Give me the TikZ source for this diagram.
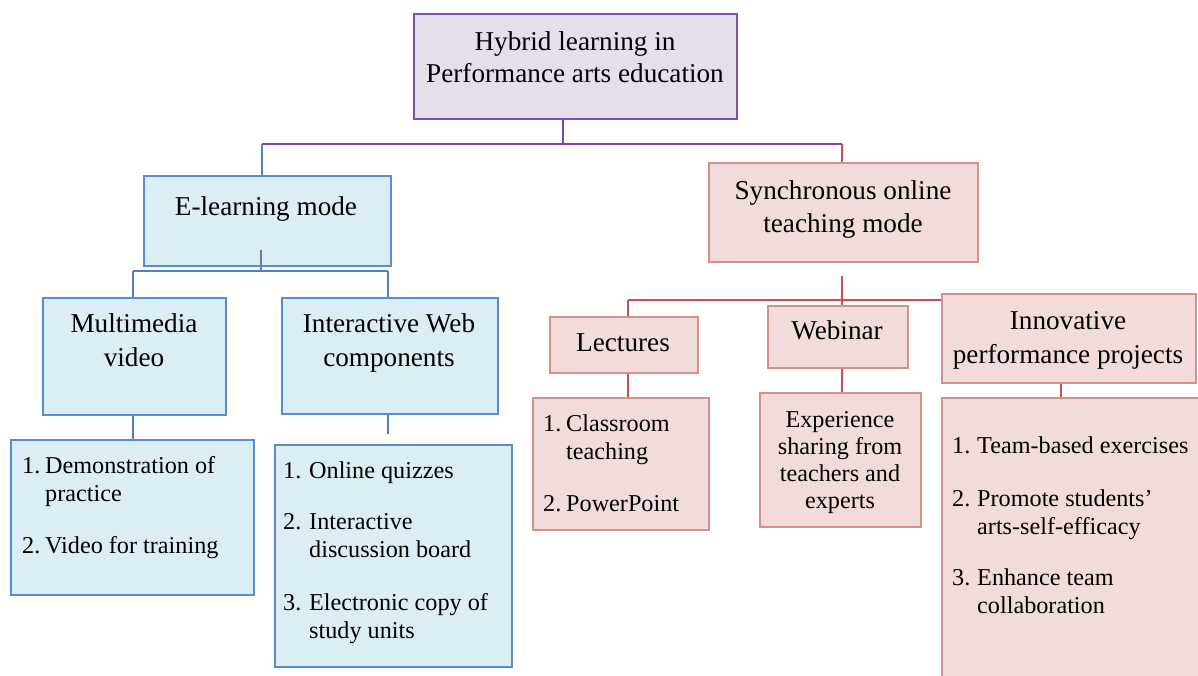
\documentclass[tikz,border=0pt]{standalone}
\usepackage{fontspec}
\setmainfont{Liberation Serif}
\definecolor{pbord}{HTML}{7F4BB5}
\definecolor{pfill}{HTML}{E5DFEC}
\definecolor{bbord}{HTML}{5A8CD2}
\definecolor{bfill}{HTML}{DBEEF4}
\definecolor{rbord}{HTML}{D78F8E}
\definecolor{rfill}{HTML}{F2DCDB}
\definecolor{rlinec}{HTML}{C7505A}
\definecolor{blinec}{HTML}{4F81BD}
\definecolor{plinec}{HTML}{8044B8}
\begin{document}
\begin{tikzpicture}[x=1pt,y=-1pt,
  boxbase/.style={line width=2.2pt, inner sep=0pt, anchor=north west},
  pbox/.style={boxbase, draw=pbord, fill=pfill},
  bbox/.style={boxbase, draw=bbord, fill=bfill},
  rbox/.style={boxbase, draw=rbord, fill=rfill},
  pline/.style={draw=plinec, line width=2pt},
  bline/.style={draw=blinec, line width=2pt},
  rline/.style={draw=rlinec, line width=2pt},
  head/.style={inner sep=0pt, anchor=base, font=\fontsize{27.2}{32}\selectfont},
  item/.style={inner sep=0pt, anchor=base west, font=\fontsize{24.2}{28}\selectfont},
  itemc/.style={inner sep=0pt, anchor=base, font=\fontsize{24.2}{28}\selectfont}]
\useasboundingbox (0,0) rectangle (1198,675);
\clip (0,0) rectangle (1198,675);

% boxes
\node[pbox, minimum width=323, minimum height=105] (top) at (413,13) {};
\node[bbox, minimum width=247, minimum height=90] (elearn) at (143,175) {};
\node[rbox, minimum width=269, minimum height=99] (synch) at (708,162) {};
\node[bbox, minimum width=183, minimum height=117] (multi) at (42,297) {};
\node[bbox, minimum width=216, minimum height=116] (iweb) at (281,297) {};
\node[bbox, minimum width=243, minimum height=155] (demo) at (10,439) {};
\node[bbox, minimum width=237, minimum height=222] (ilist) at (274,444) {};
\node[rbox, minimum width=148, minimum height=56] (lect) at (549,316) {};
\node[rbox, minimum width=140, minimum height=62] (webi) at (767,305) {};
\node[rbox, minimum width=254, minimum height=89] (innov) at (941,293) {};
\node[rbox, minimum width=176, minimum height=132] (class) at (532,397) {};
\node[rbox, minimum width=161, minimum height=134] (exper) at (759,392) {};
\node[rbox, minimum width=274, minimum height=303] (inlist) at (941,397) {};

% junction coordinates
\coordinate (j0) at (563,144);
\coordinate (jl) at (262,144);
\coordinate (jr) at (842,144);
\coordinate (jb) at (261,271);
\coordinate (jbl) at (133,271);
\coordinate (jbr) at (388,271);
\coordinate (jrm) at (842,300);
\coordinate (jrl) at (628,300);
\coordinate (jin) at (1061,390);

% connectors level 1
\draw[pline] (top.south -| j0) -- (j0);
\draw[pline] (jl) -- (jr);
\draw[bline] (jl) -- (elearn.north -| jl);
\draw[rline] (jr) -- (synch.north -| jr);

% blue branch
\draw[bline] ([yshift=17pt]elearn.south -| jb) -- (jb);
\draw[bline] (jbl) -- (jbr);
\draw[bline] (jbl) -- (multi.north -| jbl);
\draw[bline] (jbr) -- (iweb.north -| jbr);
\draw[bline] (multi.south -| jbl) -- (demo.north -| jbl);
\draw[bline] (iweb.south -| jbr) -- ([yshift=10pt]ilist.north -| jbr);

% red branch
\draw[rline] ([yshift=-13pt]synch.south -| jrm) -- (webi.north -| jrm);
\draw[rline] (jrl) -- (innov.west |- jrl);
\draw[rline] (jrl) -- (lect.north -| jrl);
\draw[rline] (lect.south -| jrl) -- (class.north -| jrl);
\draw[rline] (webi.south -| jrm) -- (exper.north -| jrm);
\draw[rline] (innov.south -| jin) -- (inlist.north -| jin);

% heading texts
\node[head] (t1) at (575,50) {Hybrid learning in};
\node[head] (t2) at (575,82) {Performance arts education};
\node[head] (e1) at (266,215) {E-learning mode};
\node[head] (s1) at (843,199) {Synchronous online};
\node[head] (s2) at (843,232) {teaching mode};
\node[head] (m1) at (134,332) {Multimedia};
\node[head] (m2) at (134,366) {video};
\node[head] (w1) at (389,332) {Interactive Web};
\node[head] (w2) at (389,366) {components};
\node[head] (l1) at (623,351) {Lectures};
\node[head] (wb1) at (837,339) {Webinar};
\node[head] (n1) at (1068,329) {Innovative};
\node[head] (n2) at (1068,363) {performance projects};

% demo list
\node[item] (d1) at (22,473) {\makebox[23pt][l]{1.}Demonstration of};
\node[item] (d2) at (45,501) {practice};
\node[item] (d3) at (22,553) {\makebox[23pt][l]{2.}Video for training};

% interactive list
\node[item] (i1) at (283,478) {\makebox[26pt][l]{1.}Online quizzes};
\node[item] (i2) at (283,529) {\makebox[26pt][l]{2.}Interactive};
\node[item] (i3) at (309,557) {discussion board};
\node[item] (i4) at (283,610) {\makebox[26pt][l]{3.}Electronic copy of};
\node[item] (i5) at (309,638) {study units};

% classroom list
\node[item] (c1) at (543,431) {\makebox[23pt][l]{1.}Classroom};
\node[item] (c2) at (566,459) {teaching};
\node[item] (c3) at (543,511) {\makebox[23pt][l]{2.}PowerPoint};

% experience
\node[itemc] (x1) at (840,427) {Experience};
\node[itemc] (x2) at (840,454) {sharing from};
\node[itemc] (x3) at (840,481) {teachers and};
\node[itemc] (x4) at (840,508) {experts};

% innovative list
\node[item] (p1) at (952,453) {\makebox[25pt][l]{1.}Team-based exercises};
\node[item] (p2) at (952,506) {\makebox[25pt][l]{2.}Promote students’};
\node[item] (p3) at (977,534) {arts-self-efficacy};
\node[item] (p4) at (952,585) {\makebox[25pt][l]{3.}Enhance team};
\node[item] (p5) at (977,613) {collaboration};
\end{tikzpicture}
\end{document}
